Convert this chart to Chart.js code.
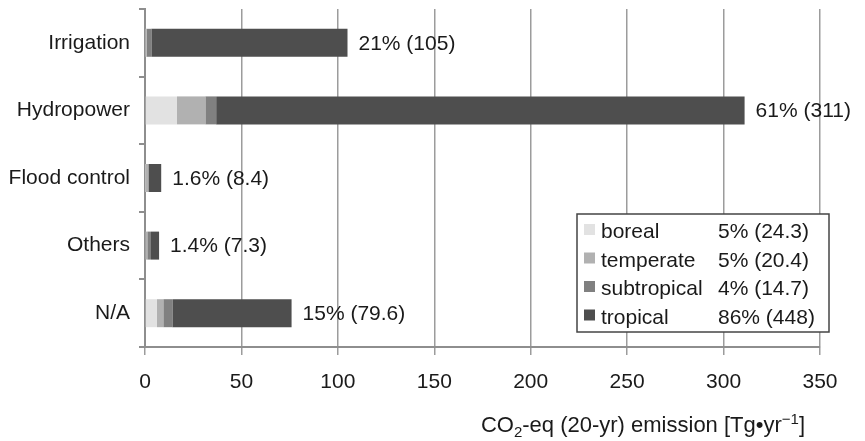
<!DOCTYPE html>
<html lang="en">
<head>
<meta charset="UTF-8">
<title>CO2-eq emission by reservoir purpose</title>
<style>
  * { margin: 0; padding: 0; box-sizing: border-box; }
  body { background: #fff; width: 865px; height: 441px; overflow: hidden; }
  #wrap { position: relative; width: 865px; height: 441px; }
</style>
</head>
<body>
<div id="wrap"><canvas id="chart" width="865" height="441"></canvas></div>
<script src="https://cdn.jsdelivr.net/npm/chart.js@4/dist/chart.umd.min.js"></script>
<script>
// purposes (top to bottom)
const categories  = ['Irrigation', 'Hydropower', 'Flood control', 'Others', 'N/A'];

// emission per climate zone, Tg/yr
const boreal      = [0.3, 16.6, 0.2, 0.5, 6.2];
const temperate   = [0.5, 14.7, 1.4, 0.7, 3.3];
const subtropical = [2.5,  5.6, 0.3, 1.9, 4.7];
const tropical    = [101.7, 274, 6.5, 4.2, 61.8];

// labels written after each bar
const barLabels = ['21% (105)', '61% (311)', '1.6% (8.4)', '1.4% (7.3)', '15% (79.6)'];

// legend
const zoneNames  = ['boreal', 'temperate', 'subtropical', 'tropical'];
const zoneShares = ['5% (24.3)', '5% (20.4)', '4% (14.7)', '86% (448)'];
const zoneColors = ['#e2e2e2', '#b1b1b1', '#808080', '#4e4e4e'];

const xMin = 0, xMax = 350, xStep = 50;

const FONT = "'Liberation Sans', Arial, Helvetica, sans-serif";
const TEXT = '#1a1a1a';
const FS = 21;

const barLabelPlugin = {
  id: 'barLabels',
  afterDatasetsDraw(chart) {
    const ctx = chart.ctx;
    const last = chart.getDatasetMeta(chart.data.datasets.length - 1);
    ctx.save();
    ctx.font = FS + 'px ' + FONT;
    ctx.fillStyle = TEXT;
    ctx.textAlign = 'left';
    ctx.textBaseline = 'middle';
    last.data.forEach((bar, i) => {
      ctx.fillText(barLabels[i], bar.x + 11, bar.y + 1);
    });
    ctx.restore();
  }
};

const zoneLegendPlugin = {
  id: 'zoneLegend',
  afterDraw(chart) {
    const ctx = chart.ctx;
    const area = chart.chartArea;
    const right = area.right + 9;
    const left = right - 252;
    const bottom = area.bottom - 15;
    const rowH = 28.5;
    const top = bottom - 118;
    ctx.save();
    ctx.fillStyle = '#fff';
    ctx.fillRect(left, top, right - left, bottom - top);
    ctx.strokeStyle = '#444';
    ctx.lineWidth = 1.5;
    ctx.strokeRect(left, top, right - left, bottom - top);
    ctx.font = FS + 'px ' + FONT;
    ctx.textBaseline = 'alphabetic';
    ctx.textAlign = 'left';
    zoneNames.forEach((name, i) => {
      const base = top + 24 + i * rowH;
      ctx.fillStyle = zoneColors[i];
      ctx.fillRect(left + 7, base - 14, 11, 11);
      ctx.fillStyle = TEXT;
      ctx.fillText(name, left + 24, base);
      ctx.fillText(zoneShares[i], left + 141, base);
    });
    ctx.restore();
  }
};

const axisTitlePlugin = {
  id: 'axisTitle',
  afterDraw(chart) {
    const ctx = chart.ctx;
    const x = chart.scales.x;
    const parts = [
      { t: 'CO', s: 22, dy: 0 },
      { t: '2', s: 15, dy: 5 },
      { t: '-eq (20-yr) emission [Tg\u2022yr', s: 22, dy: 0 },
      { t: '\u22121', s: 15, dy: -8 },
      { t: ']', s: 22, dy: 0 }
    ];
    ctx.save();
    ctx.fillStyle = TEXT;
    ctx.textBaseline = 'alphabetic';
    ctx.textAlign = 'left';
    let total = 0;
    parts.forEach(p => { ctx.font = p.s + 'px ' + FONT; p.w = ctx.measureText(p.t).width; total += p.w; });
    let cx = x.right - 15 - total;
    const base = x.bottom - 9;
    parts.forEach(p => {
      ctx.font = p.s + 'px ' + FONT;
      ctx.fillText(p.t, cx, base + p.dy);
      cx += p.w;
    });
    ctx.restore();
  }
};

const mkSet = (label, data, color) => ({
  label, data,
  backgroundColor: color,
  borderWidth: 0,
  barPercentage: 0.414,
  categoryPercentage: 1
});

new Chart(document.getElementById('chart'), {
  type: 'bar',
  data: {
    labels: categories,
    datasets: [
      mkSet('boreal', boreal, zoneColors[0]),
      mkSet('temperate', temperate, zoneColors[1]),
      mkSet('subtropical', subtropical, zoneColors[2]),
      mkSet('tropical', tropical, zoneColors[3])
    ]
  },
  options: {
    indexAxis: 'y',
    responsive: false,
    animation: false,
    devicePixelRatio: 1,
    layout: { padding: { top: 9, right: 45, left: 0, bottom: 0 } },
    plugins: { legend: { display: false }, tooltip: { enabled: false } },
    scales: {
      x: {
        stacked: true,
        min: xMin, max: xMax,
        ticks: { stepSize: xStep, color: TEXT, font: { family: FONT, size: FS }, padding: 15 },
        grid: { color: '#9c9c9c', lineWidth: 1.5, tickLength: 8 },
        border: { color: '#8e8e8e', width: 2 },
        afterFit: s => { s.height = 94; s.paddingLeft = 0; }
      },
      y: {
        stacked: true,
        ticks: { color: TEXT, font: { family: FONT, size: FS }, padding: 9 },
        grid: { drawOnChartArea: false, color: '#8e8e8e', lineWidth: 2, tickLength: 6 },
        border: { color: '#8e8e8e', width: 2 },
        afterFit: s => { s.width = 145; s.paddingTop = 0; s.paddingBottom = 0; }
      }
    }
  },
  plugins: [barLabelPlugin, zoneLegendPlugin, axisTitlePlugin]
});
</script>
</body>
</html>
